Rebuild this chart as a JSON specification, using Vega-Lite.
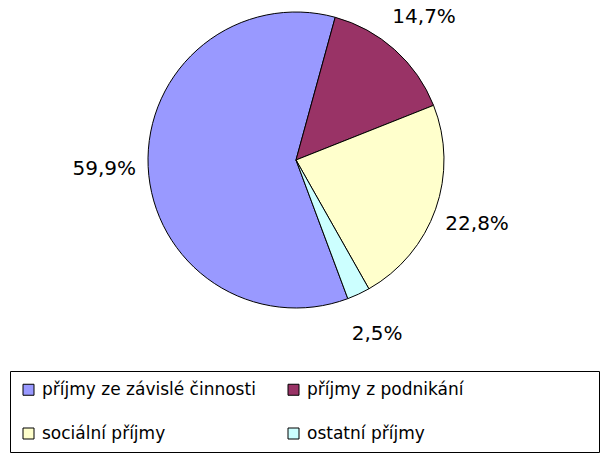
{
  "$schema": "https://vega.github.io/schema/vega-lite/v6.json",
  "width": 592,
  "height": 320,
  "autosize": {"type": "none"},
  "padding": {"left": 0, "top": 0, "right": 17, "bottom": 134},
  "background": "white",
  "data": {"values": [
    {"k": "příjmy ze závislé činnosti", "v": 59.9, "label": "59,9%", "ord": 1},
    {"k": "příjmy z podnikání", "v": 14.7, "label": "14,7%", "ord": 2},
    {"k": "sociální příjmy", "v": 22.8, "label": "22,8%", "ord": 3},
    {"k": "ostatní příjmy", "v": 2.5, "label": "2,5%", "ord": 4}
  ]},
  "encoding": {
    "theta": {"field": "v", "type": "quantitative", "stack": true, "scale": {"range": [2.784, 9.067]}},
    "order": {"field": "ord", "type": "quantitative"}
  },
  "layer": [
    {
      "mark": {"type": "arc", "outerRadius": 148, "stroke": "black", "strokeWidth": 1},
      "encoding": {
        "color": {
          "field": "k",
          "type": "nominal",
          "sort": null,
          "scale": {
            "domain": ["příjmy ze závislé činnosti", "příjmy z podnikání", "sociální příjmy", "ostatní příjmy"],
            "range": ["#9999FF", "#993366", "#FFFFCC", "#CCFFFF"]
          },
          "legend": {
            "orient": "none",
            "direction": "horizontal",
            "legendX": 10,
            "legendY": 371,
            "columns": 2,
            "title": " ",
            "titleOrient": "right",
            "titlePadding": 125,
            "symbolType": "M-1,-1H1V1H-1Z",
            "symbolSize": 121,
            "symbolStrokeColor": "black",
            "symbolStrokeWidth": 1,
            "symbolOpacity": 1,
            "padding": 10,
            "rowPadding": 26,
            "columnPadding": 29,
            "encode": {
              "symbols": {
                "enter": {"shape": {"value": "M-1,-1H1V1H-1Z"}},
                "update": {"shape": {"value": "M-1,-1H1V1H-1Z"}, "stroke": {"value": "black"}, "strokeWidth": {"value": 1}, "opacity": {"value": 1}}
              }
            }
          }
        }
      }
    },
    {
      "mark": {"type": "text", "radius": 192, "fontSize": 20, "font": "DejaVu Sans", "fill": "black", "align": "center", "baseline": "middle"},
      "encoding": {"text": {"field": "label", "type": "nominal"}}
    }
  ],
  "config": {
    "view": {"stroke": null},
    "legend": {
      "symbolType": "square",
      "labelFont": "DejaVu Sans",
      "labelFontSize": 17,
      "labelColor": "black",
      "labelOffset": 5,
      "labelLimit": 400,
      "strokeColor": "black",
      "titleFontSize": 17
    }
  }
}
